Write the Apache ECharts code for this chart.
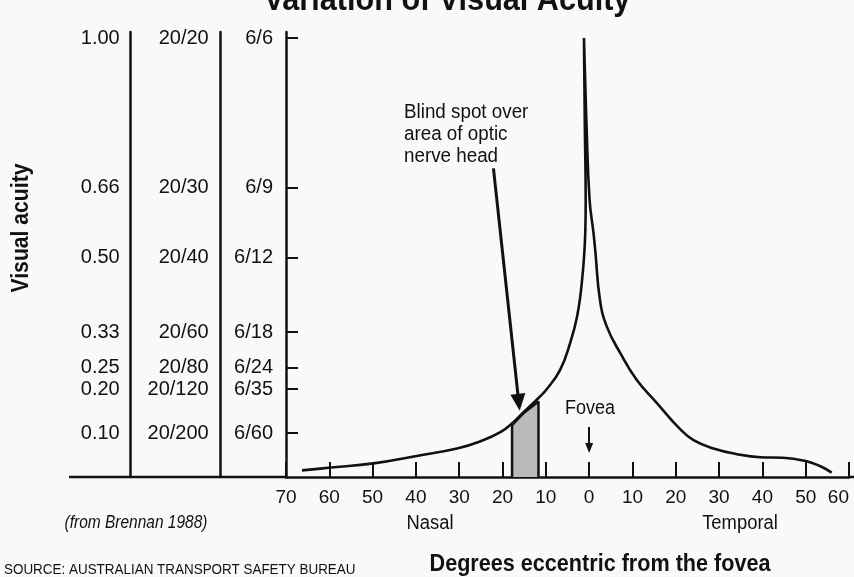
<!DOCTYPE html>
<html><head><meta charset="utf-8">
<script src="https://cdn.jsdelivr.net/npm/echarts@6/dist/echarts.min.js"></script>
<style>html,body{margin:0;padding:0;background:#f9f9f9}#c{width:854px;height:577px}</style>
</head><body><div id="c"></div>
<script>
// ---- data ----
const acuityTicks   = [1.00, 0.66, 0.50, 0.33, 0.25, 0.20, 0.10];
const decimalLabels = ['1.00', '0.66', '0.50', '0.33', '0.25', '0.20', '0.10'];
const feetLabels    = ['20/20', '20/30', '20/40', '20/60', '20/80', '20/120', '20/200'];
const metreLabels   = ['6/6', '6/9', '6/12', '6/18', '6/24', '6/35', '6/60'];

// degrees eccentric (negative = nasal, positive = temporal) and visual acuity
const eccentricity = [-66.3, -60.2, -49.8, -39.8, -30.5, -25.2, -20.5, -17.5, -15.2, -11.7, -9.8, -6.7, -4.4, -2.8, -1.7, -0.9, -0.8, -1.0, -1.2, -0.6, 0.1, 1.0, 1.4, 2.5, 4.1, 7.2, 11.0, 15.6, 21.0, 24.1, 28.7, 34.1, 39.5, 44.8, 50.2, 53.3, 56.0];
const acuity       = [0.015, 0.021, 0.031, 0.048, 0.065, 0.081, 0.102, 0.125, 0.147, 0.180, 0.200, 0.244, 0.305, 0.365, 0.442, 0.556, 0.630, 0.800, 1.000, 0.800, 0.631, 0.556, 0.517, 0.403, 0.342, 0.282, 0.221, 0.169, 0.109, 0.084, 0.065, 0.052, 0.045, 0.044, 0.036, 0.025, 0.010];

// blind spot (optic nerve head)
const blindSpotX = [-17.8, -17.8, -15.2, -11.7, -11.7];
const blindSpotY = [0, 0.118, 0.145, 0.172, 0];

// annotation arrows [x, acuity]
const blindArrowFrom = [-22.1, 0.703];
const blindArrowTo   = [-16.25, 0.170];
const foveaArrowFrom = [0, 0.114];
const foveaArrowTo   = [0, 0.066];

// ---- chart ----
const FONT = "'Liberation Sans', Arial, sans-serif";
const INK = '#111';
function lookup(labels) {
  return function (v) {
    for (let i = 0; i < acuityTicks.length; i++) if (Math.abs(acuityTicks[i] - v) < 1e-6) return labels[i];
    return '';
  };
}
function yAx(offset, labels, margin, ticks) {
  return {
    type: 'value', min: 0, max: 1.0137, position: 'left', offset: offset,
    axisLine: { show: true, onZero: false, lineStyle: { color: INK, width: 2.5 } },
    axisTick: { show: ticks, inside: true, length: 12, customValues: acuityTicks, lineStyle: { color: INK, width: 2 } },
    axisLabel: { show: true, customValues: acuityTicks, formatter: lookup(labels), margin: margin,
      color: INK, fontFamily: FONT, fontSize: 20 },
    splitLine: { show: false }
  };
}
function txt(x, y, text, font, align, extra) {
  return Object.assign({ type: 'text', x: x, y: y,
    style: { text: text, fill: INK, font: font, align: align || 'center', verticalAlign: 'middle' } }, extra || {});
}
const chart = echarts.init(document.getElementById('c'), null, { renderer: 'canvas' });
chart.setOption({
  backgroundColor: '#f9f9f9',
  animation: false,
  grid: { left: 286, right: 5, top: 32, bottom: 100, containLabel: false, outerBoundsMode: 'none' },
  xAxis: {
    type: 'value', min: -70, max: 60, interval: 10,
    axisLine: { show: true, onZero: false, lineStyle: { color: INK, width: 2.5 } },
    axisTick: { show: true, inside: true, length: 15, lineStyle: { color: INK, width: 2 } },
    axisLabel: { formatter: v => String(Math.abs(v)), margin: 11, color: INK, fontFamily: FONT, fontSize: 19,
      showMinLabel: true, showMaxLabel: true, alignMaxLabel: 'right' },
    splitLine: { show: false }
  },
  yAxis: [
    yAx(0, metreLabels, 13, true),
    yAx(65.3, feetLabels, 12, false),
    yAx(155.3, decimalLabels, 11, false)
  ],
  series: [
    {
      type: 'line', yAxisIndex: 0, z: 2, symbol: 'none', silent: true,
      data: blindSpotX.map((x, i) => [x, blindSpotY[i]]),
      lineStyle: { color: INK, width: 2.5 },
      areaStyle: { color: '#bababa', opacity: 1 }
    },
    {
      type: 'line', yAxisIndex: 0, z: 3, symbol: 'none', silent: true,
      smooth: 0.45,
      data: eccentricity.map((x, i) => [x, acuity[i]]),
      lineStyle: { color: INK, width: 2.6 },
      markLine: {
        silent: true, animation: false,
        label: { show: false },
        lineStyle: { color: INK, type: 'solid' },
        data: [
          [{ coord: blindArrowFrom, symbol: 'none', lineStyle: { width: 3 } },
           { coord: blindArrowTo, symbol: 'triangle', symbolSize: [15, 17] }],
          [{ coord: foveaArrowFrom, symbol: 'none', lineStyle: { width: 2 } },
           { coord: foveaArrowTo, symbol: 'triangle', symbolSize: [8, 10] }]
        ]
      }
    }
  ],
  graphic: [
    { type: 'line', shape: { x1: 69, y1: 477, x2: 286, y2: 477 }, style: { stroke: INK, lineWidth: 2.5 } },
    { type: 'line', shape: { x1: 849, y1: 477, x2: 854, y2: 477 }, style: { stroke: INK, lineWidth: 2.5 } },
    txt(447, 1, 'Variation of Visual Acuity', 'bold 34px ' + FONT, 'center', { scaleX: 0.9 }),
    txt(22, 228, 'Visual acuity', 'bold 23px ' + FONT, 'center', { rotation: Math.PI / 2, scaleX: 0.92 }),
    { type: 'text', x: 404, y: 101, scaleX: 0.94, style: { text: 'Blind spot over\narea of optic\nnerve head', fill: INK, font: '20px ' + FONT, lineHeight: 22, align: 'left', verticalAlign: 'top' } },
    txt(590, 408, 'Fovea', '20px ' + FONT, 'center', { scaleX: 0.9 }),
    txt(430, 523, 'Nasal', '20px ' + FONT, 'center', { scaleX: 0.92 }),
    txt(740, 523, 'Temporal', '20px ' + FONT, 'center', { scaleX: 0.92 }),
    txt(136, 523, '(from Brennan 1988)', 'italic 18px ' + FONT, 'center', { scaleX: 0.86 }),
    txt(600, 564, 'Degrees eccentric from the fovea', 'bold 24px ' + FONT, 'center', { scaleX: 0.9 }),
    txt(4, 570, 'SOURCE: AUSTRALIAN TRANSPORT SAFETY BUREAU', '14px ' + FONT, 'left', { scaleX: 0.96 })
  ]
});
</script>
</body></html>
